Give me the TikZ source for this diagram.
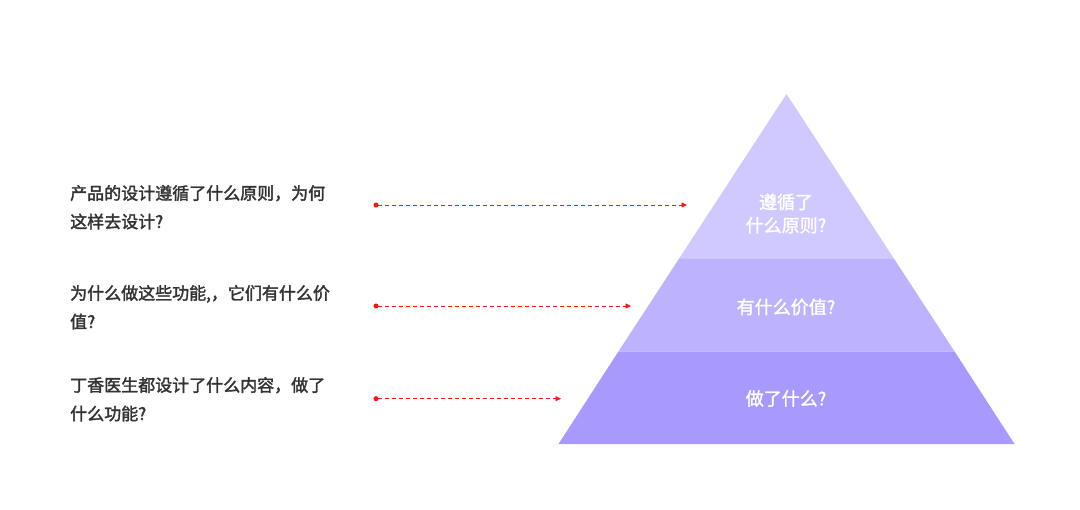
\documentclass[tikz,border=0pt]{standalone}
\usepackage{fontspec}
\newfontfamily\cjk{Noto Sans CJK SC}
\usetikzlibrary{arrows.meta}
\definecolor{tierone}{RGB}{208,201,255}
\definecolor{tiertwo}{RGB}{188,178,253}
\definecolor{tierthree}{RGB}{167,153,254}
\definecolor{qtext}{RGB}{51,51,51}
\definecolor{linkred}{RGB}{255,20,20}
\tikzset{
  qline/.style={anchor=base west, inner sep=0pt, text=qtext, font=\cjk\fontsize{17bp}{20bp}\selectfont\addfontfeature{FakeBold=2}},
  tierlabel/.style={inner sep=0pt, text=white, font=\cjk\fontsize{18bp}{23.3bp}\selectfont\addfontfeature{FakeBold=1.5}, align=center},
  link/.style={draw=linkred, line width=0.8bp, dash pattern=on 4bp off 3bp,
    {Circle[length=5bp,fill=linkred]}-{Triangle[length=5.5bp,width=5bp,fill=linkred]}}
}
\begin{document}
\begin{tikzpicture}[x=1bp,y=-1bp]
\useasboundingbox (0,0) rectangle (1080,510);
% pyramid tiers
\path[fill=tierone] (786.5,94) -- (894.2,259) -- (678.8,259) -- cycle;
\path[fill=tiertwo] (678.8,259) -- (894.2,259) -- (954.7,351.7) -- (618.3,351.7) -- cycle;
\path[fill=tierthree] (618.3,351.7) -- (954.7,351.7) -- (1014.5,444) -- (558.5,444) -- cycle;
% tier labels
\node[tierlabel] (t1) at (786,213.5) {遵循了\\什么原则?};
\node[tierlabel] (t2) at (786,307) {有什么价值?};
\node[tierlabel] (t3) at (786,398.5) {做了什么?};
% questions
\node[qline] (q1a) at (70,199.5) {产品的设计遵循了什么原则，为何};
\node[qline] (q1b) at (70,228) {这样去设计?};
\node[qline] (q2a) at (70,299.5) {为什么做这些功能,，它们有什么价};
\node[qline] (q2b) at (70,328) {值?};
\node[qline] (q3a) at (70,391.5) {丁香医生都设计了什么内容，做了};
\node[qline] (q3b) at (70,420) {什么功能?};
% connectors
\coordinate (s1) at (373.5,205);
\coordinate (e1) at (687,205);
\coordinate (s2) at (373.5,306);
\coordinate (e2) at (631,306);
\coordinate (s3) at (373.5,398.7);
\coordinate (e3) at (561,398.7);
\draw[link] (s1) -- (e1);
\draw[link] (s2) -- (e2);
\draw[link] (s3) -- (e3);
\end{tikzpicture}
\end{document}
